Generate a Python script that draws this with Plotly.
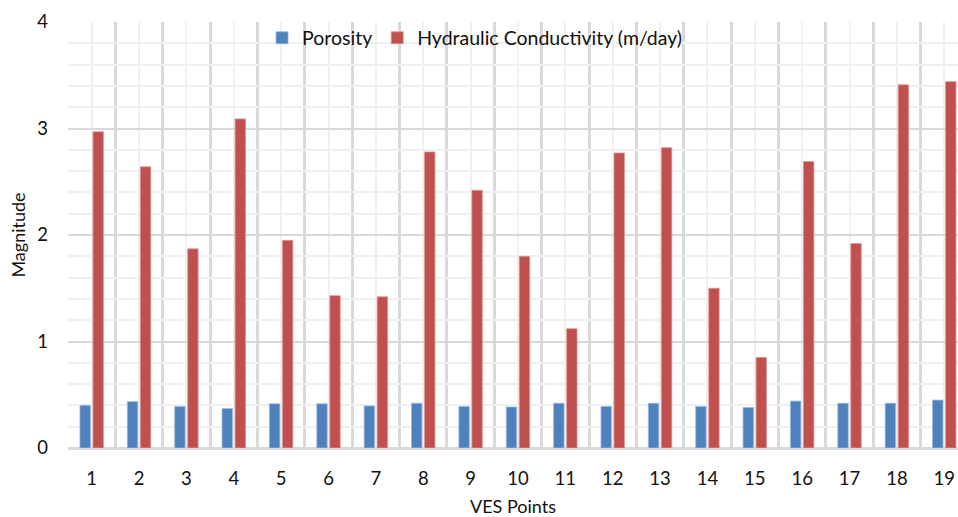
import plotly.graph_objects as go

ves_points = list(range(1, 20))
tick_labels = [str(v) for v in ves_points]
porosity = [0.40, 0.435, 0.39, 0.37, 0.415, 0.415, 0.395, 0.42, 0.39, 0.385,
            0.42, 0.39, 0.42, 0.39, 0.38, 0.44, 0.42, 0.42, 0.45]
hydraulic_conductivity = [2.97, 2.64, 1.87, 3.09, 1.95, 1.43, 1.42, 2.78, 2.42, 1.80,
                          1.12, 2.77, 2.82, 1.50, 0.85, 2.69, 1.92, 3.41, 3.44]

FONT = "Lato"
TXT = "#111111"

fig = go.Figure()
fig.add_trace(go.Bar(x=ves_points, y=porosity, name="Porosity",
                     marker=dict(color="#4f81bd", line=dict(color="#9bb7da", width=0.8))))
fig.add_trace(go.Bar(x=ves_points, y=hydraulic_conductivity, name="Hydraulic Conductivity (m/day)",
                     marker=dict(color="#c0504d", line=dict(color="#d99694", width=0.8))))

fig.update_layout(
    width=958, height=517,
    margin=dict(l=68, r=0, t=22, b=69),
    paper_bgcolor="white", plot_bgcolor="white",
    barmode="group", bargap=0.45, bargroupgap=0.2,
    font=dict(family=FONT, size=18, color=TXT),
    legend=dict(orientation="h", x=0.218, y=1.008, xanchor="left", yanchor="top",
                font=dict(family=FONT, size=19.5, color=TXT), bgcolor="rgba(0,0,0,0)",
                itemwidth=30),
)
fig.update_xaxes(
    automargin=False,
    range=[0.5, 19.29], tickmode="array", tickvals=ves_points, ticktext=tick_labels,
    showgrid=True, gridcolor="#f0f0f0", gridwidth=2,
    minor=dict(tick0=0.5, dtick=1, showgrid=True, gridcolor="#d9d9d9", gridwidth=2.5),
    showline=False, zeroline=False, ticks="", ticklabelstandoff=17,
    tickfont=dict(family=FONT, size=18.5, color=TXT),
    title=dict(text="VES Points", font=dict(family=FONT, size=18, color=TXT), standoff=28),
)
fig.update_yaxes(
    automargin=False,
    range=[0, 4], dtick=1, tick0=0,
    showgrid=True, gridcolor="#d9d9d9", gridwidth=2,
    minor=dict(dtick=0.2, showgrid=True, gridcolor="#f0f0f0", gridwidth=2),
    showline=False, zeroline=True, zerolinecolor="#d9d9d9", zerolinewidth=2.5,
    ticks="", ticklabelstandoff=19,
    tickfont=dict(family=FONT, size=18.5, color=TXT),
    title=dict(text="Magnitude", font=dict(family=FONT, size=18, color=TXT), standoff=6),
)

fig.write_html("out.html")
